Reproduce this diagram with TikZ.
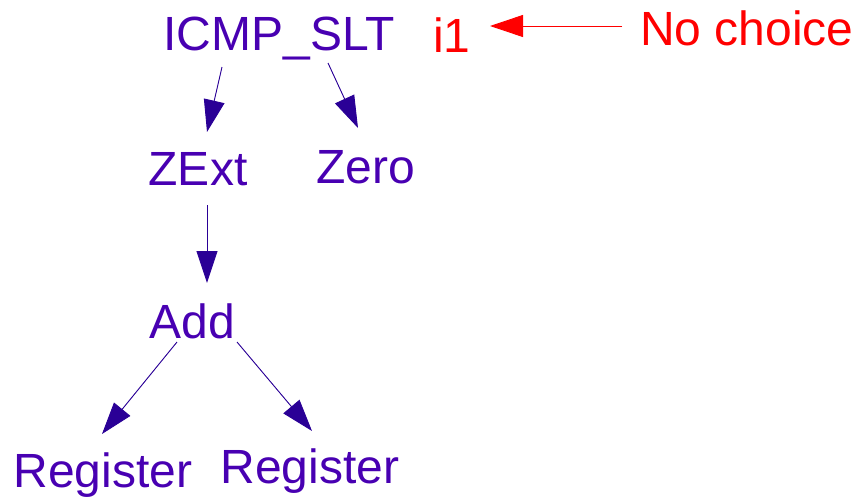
\documentclass[tikz,border=0pt]{standalone}
\usepackage{fontspec}
\setmainfont{Liberation Sans}
\usepackage{xcolor}
\usetikzlibrary{positioning, arrows.meta}

\definecolor{dagtext}{RGB}{72,0,178}
\definecolor{dagline}{RGB}{42,0,150}

\tikzset{
    dagnode/.style={anchor=base, inner sep=0pt, text=dagtext, font=\fontsize{48}{48}\selectfont},
    notenode/.style={dagnode, text=red},
    dep/.style={draw=dagline, line width=0.9pt, -{Triangle[length=32pt, width=21pt]}, fill=dagline},
    noteline/.style={draw=red, line width=0.9pt, -{Triangle[length=33pt, width=22pt]}, fill=red}
}

\begin{document}
\begin{tikzpicture}[x=1pt, y=-1pt]
        \useasboundingbox (0, 0) rectangle (861, 498);

        \node[dagnode] (icmp) at (279, 50) {ICMP\_SLT};
        \node[notenode] (ty) at (452, 52) {i1};
        \node[notenode] (nochoice) at (747, 45) {No choice};

        \node[dagnode] (zext) at (198, 185) {ZExt};
        \node[dagnode] (zero) at (366, 183) {Zero};
        \node[dagnode] (add) at (192, 338) {Add};
        \node[dagnode] (regl) at (103, 487) {Register};
        \node[dagnode] (regr) at (310, 483) {Register};

        \draw[dep] ([shift={(-57, 17)}]icmp.base) -- ([shift={(9, -53)}]zext.base);
        \draw[dep] ([shift={(49, 13)}]icmp.base) -- ([shift={(-8, -55)}]zero.base);
        \draw[dep] ([shift={(9, 20)}]zext.base) -- ([shift={(9, -55)}]zext.base |- add.base);
        \draw[dep] ([shift={(-15, 4)}]add.base) -- ([shift={(-1, -53)}]regl.base);
        \draw[dep] ([shift={(45, 4)}]add.base) -- ([shift={(2, -52)}]regr.base);

        \draw[noteline] ([shift={(-125, -19)}]nochoice.base) -- ([shift={(38, -26)}]ty.base);
    \end{tikzpicture}
\end{document}
